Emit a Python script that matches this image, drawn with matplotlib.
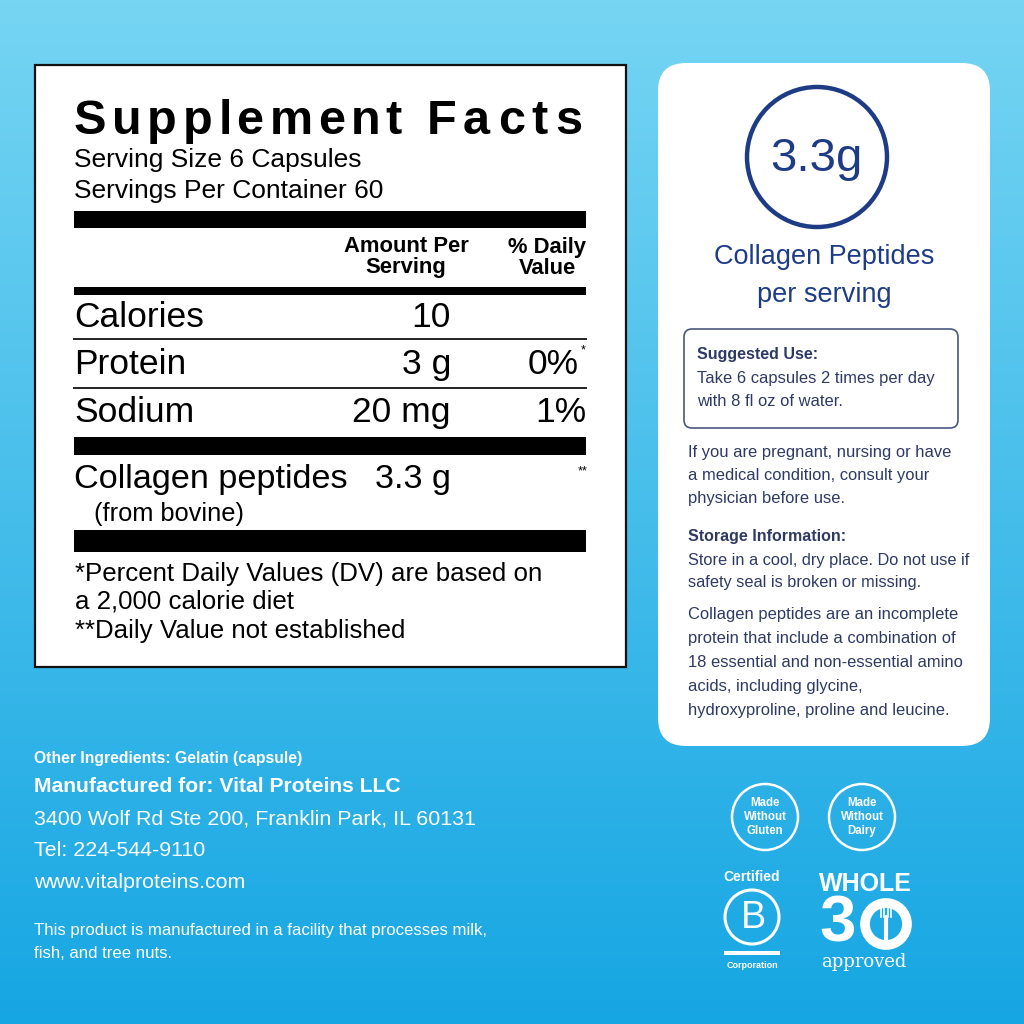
import matplotlib
matplotlib.use('Agg')
import matplotlib.pyplot as plt
import numpy as np
from matplotlib.patches import Rectangle, FancyBboxPatch, Circle
from matplotlib.textpath import TextPath
from matplotlib.font_manager import FontProperties

matplotlib.rcParams['font.family'] = 'Liberation Sans'

# label content
title = 'Supplement Facts'
serving_lines = ['Serving Size 6 Capsules', 'Servings Per Container 60']
col_headers = [['Amount Per', 'Serving'], ['% Daily', 'Value']]
nutrients = ['Calories', 'Protein', 'Sodium']
amounts = ['10', '3 g', '20 mg']
daily_values = ['', '0%', '1%']
dv_marks = ['', '*', '']
collagen_name = 'Collagen peptides'
collagen_amount = '3.3 g'
collagen_note = '(from bovine)'
footnotes = ['*Percent Daily Values (DV) are based on', 'a 2,000 calorie diet',
             '**Daily Value not established']

highlight_value = '3.3g'
highlight_label = ['Collagen Peptides', 'per serving']
suggested_use = ['Take 6 capsules 2 times per day', 'with 8 fl oz of water.']
warning = ['If you are pregnant, nursing or have', 'a medical condition, consult your',
           'physician before use.']
storage = ['Store in a cool, dry place. Do not use if', 'safety seal is broken or missing.']
about = ['Collagen peptides are an incomplete', 'protein that include a combination of',
         '18 essential and non-essential amino', 'acids, including glycine,',
         'hydroxyproline, proline and leucine.']

other_ingredients = 'Other Ingredients: Gelatin (capsule)'
manufacturer = 'Manufactured for: Vital Proteins LLC'
contact = ['3400 Wolf Rd Ste 200, Franklin Park, IL 60131', 'Tel: 224-544-9110',
           'www.vitalproteins.com']
allergen = ['This product is manufactured in a facility that processes milk,',
            'fish, and tree nuts.']
badges = ['Made\nWithout\nGluten', 'Made\nWithout\nDairy']

NAVY = '#1e3c86'
TXT = '#2e3a63'

fig = plt.figure(figsize=(10.24, 10.24), dpi=100)
ax = fig.add_axes([0, 0, 1, 1])
ax.set_xlim(0, 1024)
ax.set_ylim(1024, 0)
ax.axis('off')

# background gradient
grad = np.linspace(0, 1, 256)[:, None]
top = np.array([0x76, 0xd5, 0xf3]) / 255
bot = np.array([0x16, 0xa6, 0xe3]) / 255
img = top[None, None, :] * (1 - grad[..., None]) + bot[None, None, :] * grad[..., None]
ax.imshow(img, extent=[0, 1024, 1024, 0], aspect='auto', zorder=0)

# ---------------- supplement facts panel ----------------
ax.add_patch(Rectangle((35, 65), 591, 602, facecolor='white', edgecolor='#111111', lw=1.6, zorder=1))

# title with wide letter spacing
fp = FontProperties(family='Liberation Sans', weight='bold', size=35)
adv = []
for c in title:
    if c == ' ':
        adv.append(7)
    else:
        adv.append(TextPath((0, 0), c, prop=fp).vertices[:, 0].max())
scale = 100 / 72
total = sum(adv) * scale
extra = (580 - 74 - total) / (len(title) - 1)
x = 74
for c, a in zip(title, adv):
    ax.text(x, 134, c, fontproperties=fp, ha='left', va='baseline', color='black', zorder=3)
    x += a * scale + extra

for i, s in enumerate(serving_lines):
    ax.text(74, 167 + 31 * i, s, fontsize=19, ha='left', va='baseline', color='black', zorder=3)

ax.add_patch(Rectangle((74, 211), 512, 17, facecolor='black', lw=0, zorder=2))
for cx, hdr in zip([406, 547], col_headers):
    for j, s in enumerate(hdr):
        ax.text(cx, 247 + 21 * j, s, fontsize=15.8, fontweight='bold', ha='center',
                va='center', zorder=3)
ax.add_patch(Rectangle((74, 287), 512, 8, facecolor='black', lw=0, zorder=2))

row_y = [327, 374, 422]
for i, (n, a, d, m) in enumerate(zip(nutrients, amounts, daily_values, dv_marks)):
    y = row_y[i]
    ax.text(74, y, n, fontsize=25.5, ha='left', va='baseline', zorder=3)
    ax.text(451, y, a, fontsize=25.5, ha='right', va='baseline', zorder=3)
    if d:
        ax.text(579 if m else 586, y, d, fontsize=25.5, ha='right', va='baseline', zorder=3)
    if m:
        ax.text(581, y - 21, m, fontsize=9, ha='left', va='baseline', zorder=3)
for y in [339, 388]:
    ax.plot([74, 586], [y, y], color='#222222', lw=1.4, zorder=2)
ax.add_patch(Rectangle((74, 437), 512, 18, facecolor='black', lw=0, zorder=2))

ax.text(74, 488, collagen_name, fontsize=24.7, ha='left', va='baseline', zorder=3)
ax.text(451, 488, collagen_amount, fontsize=24.7, ha='right', va='baseline', zorder=3)
ax.text(587, 474, '**', fontsize=9, ha='right', va='baseline', zorder=3)
ax.text(94, 521, collagen_note, fontsize=18.3, ha='left', va='baseline', zorder=3)
ax.add_patch(Rectangle((74, 530), 512, 22, facecolor='black', lw=0, zorder=2))

for s, y in zip(footnotes, [581, 608, 638]):
    ax.text(75, y, s, fontsize=18.6, ha='left', va='baseline', zorder=3)

# ---------------- right info card ----------------
ax.add_patch(FancyBboxPatch((658, 63), 332, 683, boxstyle='round,pad=0,rounding_size=28',
                            facecolor='white', edgecolor='none', zorder=1))
ax.add_patch(Circle((817, 157), 70, facecolor='none', edgecolor=NAVY, lw=3.2, zorder=3))
ax.text(816, 159, highlight_value, fontsize=34, color=NAVY, ha='center', va='center', zorder=3)
ax.text(824, 257, highlight_label[0], fontsize=19.5, color=NAVY, ha='center', va='center', zorder=3)
ax.text(824, 295, highlight_label[1], fontsize=19.5, color=NAVY, ha='center', va='center', zorder=3)

ax.add_patch(FancyBboxPatch((684, 329), 274, 99, boxstyle='round,pad=0,rounding_size=8',
                            facecolor='none', edgecolor='#4a5680', lw=1.2, zorder=3))
ax.text(697, 354, 'Suggested Use:', fontsize=11.5, fontweight='bold', color=TXT, ha='left',
        va='center', zorder=3)
for i, s in enumerate(suggested_use):
    ax.text(697, 378 + 23 * i, s, fontsize=11.9, color=TXT, ha='left', va='center', zorder=3)

for i, s in enumerate(warning):
    ax.text(688, 452 + 23.5 * i, s, fontsize=11.9, color=TXT, ha='left', va='center', zorder=3)
ax.text(688, 537, 'Storage Information:', fontsize=11.5, fontweight='bold', color=TXT,
        ha='left', va='center', zorder=3)
for i, s in enumerate(storage):
    ax.text(688, 560 + 23 * i, s, fontsize=11.8, color=TXT, ha='left', va='center', zorder=3)
for i, s in enumerate(about):
    ax.text(688, 615 + 23.8 * i, s, fontsize=11.9, color=TXT, ha='left', va='center', zorder=3)

# ---------------- bottom left text ----------------
ax.text(34, 758, other_ingredients, fontsize=11.3, fontweight='bold', color='white',
        ha='left', va='center', zorder=3)
ax.text(34, 787, manufacturer, fontsize=15.2, fontweight='bold', color='white',
        ha='left', va='center', zorder=3)
for i, s in enumerate(contact):
    ax.text(34, 819 + 32 * i, s, fontsize=15.4, color='white', ha='left', va='center', zorder=3)
for i, s in enumerate(allergen):
    ax.text(34, 931 + 23 * i, s, fontsize=12.1, color='white', ha='left', va='center', zorder=3)

# ---------------- badges ----------------
for cx, lab in zip([765, 862], badges):
    ax.add_patch(Circle((cx, 817), 33, facecolor='none', edgecolor='white', lw=1.8, zorder=3))
    ax.text(cx, 817, lab, fontsize=8.3, fontweight='bold', color='white', ha='center',
            va='center', linespacing=1.2, zorder=3)

ax.text(752, 877, 'Certified', fontsize=10, fontweight='bold', color='white', ha='center',
        va='center', zorder=3)
ax.add_patch(Circle((752, 917), 27, facecolor='none', edgecolor='white', lw=2.2, zorder=3))
ax.text(753, 918, 'B', fontsize=27, color='white', ha='center', va='center', zorder=3)
ax.add_patch(Rectangle((724, 951), 56, 4, facecolor='white', lw=0, zorder=3))
ax.text(752, 965, 'Corporation', fontsize=6.5, fontweight='bold', color='white', ha='center',
        va='center', zorder=3)

ax.text(865, 884, 'WHOLE', fontsize=18, color='white', ha='center', va='center', zorder=3,
        fontweight='bold')
ax.text(838, 924, '3', fontsize=47, fontweight='bold', color='white', ha='center',
        va='center', zorder=3)
ax.add_patch(Circle((886, 924), 21, facecolor='none', edgecolor='white', lw=7, zorder=3))
ax.plot([886, 886], [917, 944], color='white', lw=3, zorder=4, solid_capstyle='round')
for dx in [-5, -1.7, 1.7, 5]:
    ax.plot([886 + dx, 886 + dx], [904, 917], color='white', lw=1.2, zorder=4)
ax.text(864, 962, 'approved', fontsize=13, family='DejaVu Serif', color='white',
        ha='center', va='center', zorder=3)

fig.savefig('out.png', dpi=100)
